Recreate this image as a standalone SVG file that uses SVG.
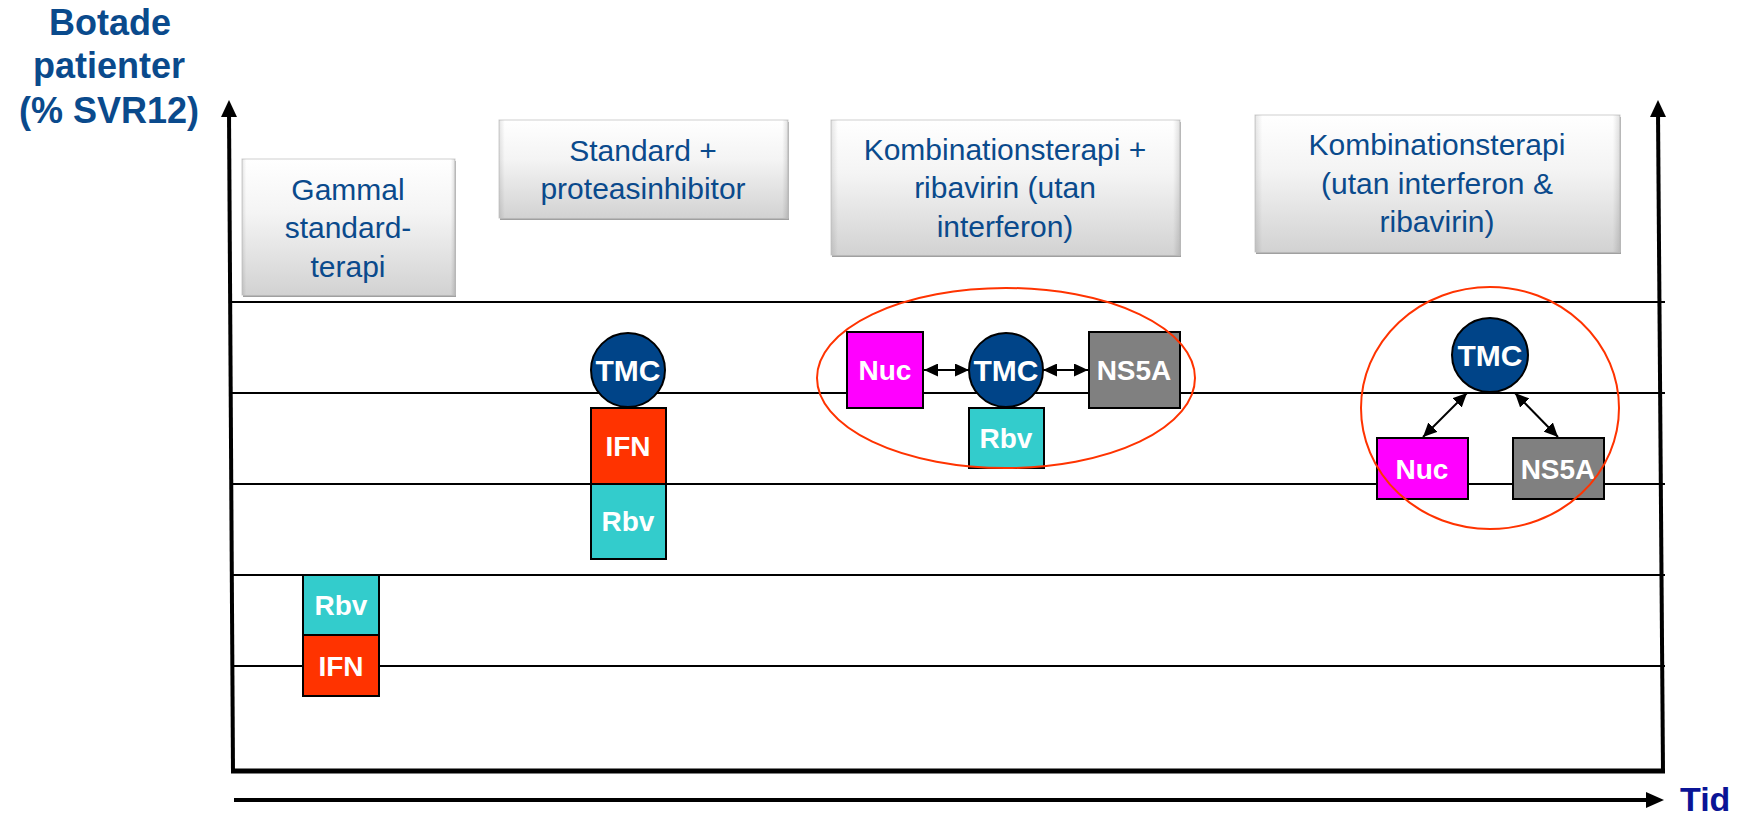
<svg xmlns="http://www.w3.org/2000/svg" width="1744" height="816" viewBox="0 0 1744 816">
<defs>
<linearGradient id="boxGrad" x1="0" y1="0" x2="0" y2="1">
<stop offset="0" stop-color="#ffffff"/>
<stop offset="0.4" stop-color="#f4f4f4"/>
<stop offset="1" stop-color="#d2d2d2"/>
</linearGradient>
<linearGradient id="edgeGrad" x1="0" y1="0" x2="1" y2="0">
<stop offset="0" stop-color="#000" stop-opacity="0.10"/>
<stop offset="0.02" stop-color="#000" stop-opacity="0"/>
<stop offset="0.98" stop-color="#000" stop-opacity="0"/>
<stop offset="1" stop-color="#000" stop-opacity="0.12"/>
</linearGradient>
<marker id="ah" viewBox="0 0 14 13" refX="14" refY="6.5" markerWidth="14" markerHeight="13" markerUnits="userSpaceOnUse" orient="auto-start-reverse">
<path d="M0,0 L14,6.5 L0,13 z" fill="#000"/>
</marker>
</defs>
<style>
.title{font-family:"Liberation Sans",Arial,sans-serif;font-weight:bold;font-size:36px;fill:#0a4a8c;text-anchor:middle}
.tid{font-family:"Liberation Sans",Arial,sans-serif;font-weight:bold;font-size:34px;fill:#0a1496}
.phase rect.bg{fill:url(#boxGrad);stroke:#d0d0d0;stroke-width:1}
.phase rect.edge{fill:url(#edgeGrad);stroke:none}
.phase .sh{fill:#a0a0a0;stroke:none}
.phase text{font-family:"Liberation Sans",Arial,sans-serif;font-size:30px;fill:#0a4a8c;text-anchor:middle}
.drug rect,.drug ellipse{stroke:#000;stroke-width:2}
.drug text{font-family:"Liberation Sans",Arial,sans-serif;font-weight:bold;font-size:28px;fill:#ffffff;text-anchor:middle}
.drug text.t{font-size:30px}
.ifn{fill:#ff3300}.rbv{fill:#33cccc}.nuc{fill:#ff00ff}.ns5a{fill:#808080}.tmc{fill:#004488}
.grid{stroke:#000;stroke-width:2}
.conn{stroke:#000;stroke-width:2;fill:none;marker-start:url(#ah);marker-end:url(#ah)}
.ring{fill:none;stroke:#ff3300;stroke-width:2}
</style>
<rect width="1744" height="816" fill="#ffffff"/>

<g id="ytitle">
<text class="title" x="110" y="35">Botade</text>
<text class="title" x="109" y="78">patienter</text>
<text class="title" x="109" y="123">(% SVR12)</text>
</g>
<text class="tid" x="1680" y="811">Tid</text>

<g id="grid">
<line class="grid" x1="229" y1="302" x2="1665" y2="302"/>
<line class="grid" x1="229" y1="393" x2="1665" y2="393"/>
<line class="grid" x1="230" y1="484" x2="1665" y2="484"/>
<line class="grid" x1="231" y1="575" x2="1665" y2="575"/>
<line class="grid" x1="232" y1="666" x2="1665" y2="666"/>
</g>

<g id="axes">
<line x1="229" y1="112" x2="233" y2="773" stroke="#000" stroke-width="4"/>
<path d="M221,117 L229,100 L237,117 z" fill="#000"/>
<line x1="1658" y1="112" x2="1663" y2="773" stroke="#000" stroke-width="4"/>
<path d="M1650,117 L1658,100 L1666,117 z" fill="#000"/>
<line x1="231" y1="771" x2="1665" y2="771" stroke="#000" stroke-width="5"/>
<line x1="234" y1="800" x2="1648" y2="800" stroke="#000" stroke-width="4"/>
<path d="M1646,792 L1664,800 L1646,808 z" fill="#000"/>
</g>

<g id="phase1" class="phase">
<rect class="sh" x="243" y="161" width="213" height="136"/>
<rect class="bg" x="242" y="159" width="213" height="136"/>
<rect class="edge" x="242" y="159" width="213" height="136"/>
<text x="348" y="200">Gammal</text>
<text x="348" y="238">standard-</text>
<text x="348" y="277">terapi</text>
</g>
<g id="phase2" class="phase">
<rect class="sh" x="500" y="122" width="289" height="98"/>
<rect class="bg" x="499" y="120" width="289" height="98"/>
<rect class="edge" x="499" y="120" width="289" height="98"/>
<text x="643" y="161">Standard +</text>
<text x="643" y="199">proteasinhibitor</text>
</g>
<g id="phase3" class="phase">
<rect class="sh" x="832" y="122" width="349" height="135"/>
<rect class="bg" x="831" y="120" width="349" height="135"/>
<rect class="edge" x="831" y="120" width="349" height="135"/>
<text x="1005" y="160">Kombinationsterapi +</text>
<text x="1005" y="198">ribavirin (utan</text>
<text x="1005" y="237">interferon)</text>
</g>
<g id="phase4" class="phase">
<rect class="sh" x="1256" y="117" width="365" height="137"/>
<rect class="bg" x="1255" y="115" width="365" height="137"/>
<rect class="edge" x="1255" y="115" width="365" height="137"/>
<text x="1437" y="155">Kombinationsterapi</text>
<text x="1437" y="194">(utan interferon &amp;</text>
<text x="1437" y="232">ribavirin)</text>
</g>

<g id="g1-rbv" class="drug"><rect class="rbv" x="303" y="575" width="76" height="60"/><text x="341" y="615">Rbv</text></g>
<g id="g1-ifn" class="drug"><rect class="ifn" x="303" y="635" width="76" height="61"/><text x="341" y="676">IFN</text></g>

<g id="g2-tmc" class="drug"><ellipse class="tmc" cx="628" cy="370" rx="37" ry="37"/><text class="t" x="628" y="381">TMC</text></g>
<g id="g2-ifn" class="drug"><rect class="ifn" x="591" y="408" width="75" height="76"/><text x="628" y="456">IFN</text></g>
<g id="g2-rbv" class="drug"><rect class="rbv" x="591" y="484" width="75" height="75"/><text x="628" y="531">Rbv</text></g>

<g id="g3-nuc" class="drug"><rect class="nuc" x="847" y="332" width="76" height="76"/><text x="885" y="380">Nuc</text></g>
<g id="g3-tmc" class="drug"><ellipse class="tmc" cx="1006" cy="370" rx="37" ry="37"/><text class="t" x="1006" y="381">TMC</text></g>
<g id="g3-ns5a" class="drug"><rect class="ns5a" x="1089" y="332" width="91" height="76"/><text x="1134" y="380">NS5A</text></g>
<g id="g3-rbv" class="drug"><rect class="rbv" x="969" y="408" width="75" height="60"/><text x="1006" y="448">Rbv</text></g>

<g id="g4-tmc" class="drug"><ellipse class="tmc" cx="1490" cy="355" rx="38" ry="37"/><text class="t" x="1490" y="366">TMC</text></g>
<g id="g4-nuc" class="drug"><rect class="nuc" x="1377" y="438" width="91" height="61"/><text x="1422" y="479">Nuc</text></g>
<g id="g4-ns5a" class="drug"><rect class="ns5a" x="1513" y="438" width="91" height="61"/><text x="1558" y="479">NS5A</text></g>

<g id="connectors">
<line class="conn" x1="924" y1="370" x2="969" y2="370"/>
<line class="conn" x1="1043" y1="370" x2="1088" y2="370"/>
<line class="conn" x1="1467" y1="393" x2="1423" y2="437"/>
<line class="conn" x1="1515" y1="393" x2="1558" y2="437"/>
</g>

<g id="rings">
<ellipse class="ring" cx="1006" cy="378" rx="189" ry="90"/>
<ellipse class="ring" cx="1490" cy="408" rx="129" ry="121"/>
</g>
</svg>
